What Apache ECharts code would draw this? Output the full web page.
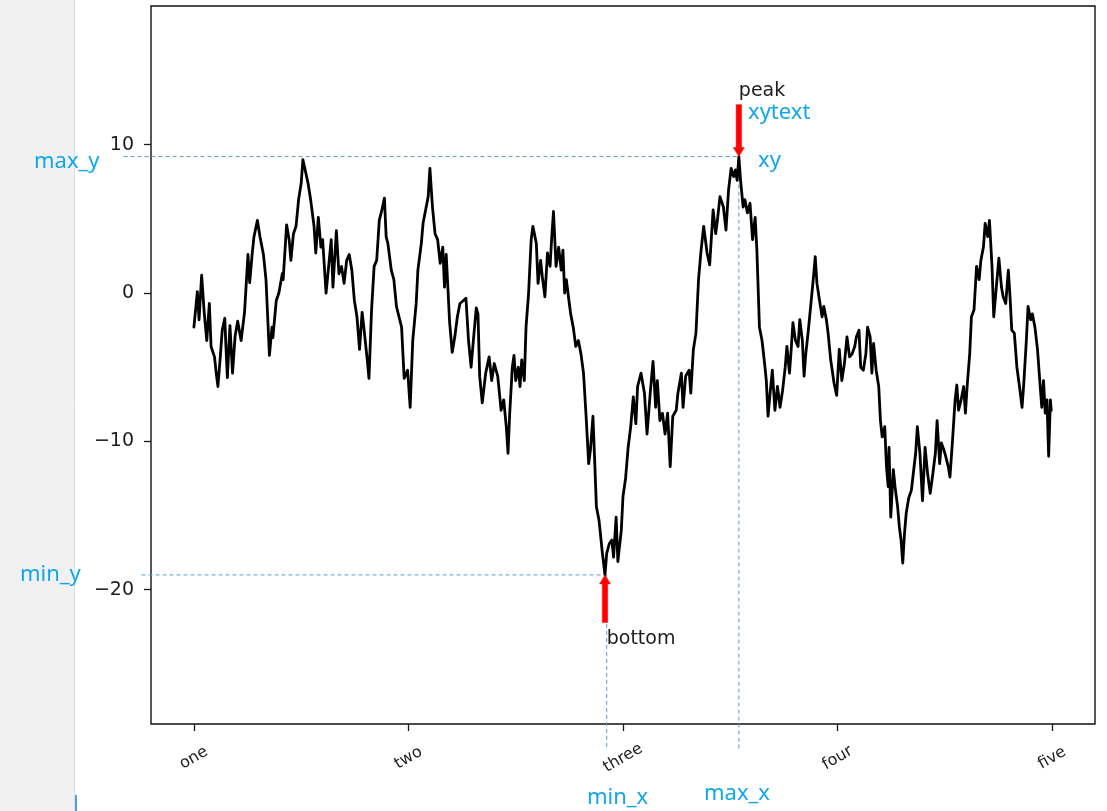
<!DOCTYPE html>
<html><head><meta charset="utf-8">
<script src="https://cdn.jsdelivr.net/npm/echarts@6/dist/echarts.min.js"></script>
<style>html,body{margin:0;padding:0;background:#fff}#c{width:1107px;height:811px}</style>
</head><body><div id="c"></div>
<script>
// x positions (sample index) and values of the random-walk line
const idx = [0,4,6,9,12,15,18,20,24,26,28,31,33,36,37,39,42,45,48,51,55,59,63,65,68,70,74,77,81,84,88,91,92,96,99,103,104,108,111,113,116,119,122,125,127,129,133,136,140,142,145,148,150,154,157,160,162,166,169,172,175,178,181,184,187,190,193,196,198,202,204,207,210,213,216,219,222,224,226,230,233,236,239,242,245,249,252,255,259,261,265,267,270,273,275,278,281,284,287,290,292,294,298,301,304,307,310,314,317,320,323,326,329,331,333,336,340,344,347,350,354,358,361,364,366,368,371,373,375,378,380,382,385,387,390,393,395,399,401,404,406,409,412,415,417,419,422,425,428,430,432,434,437,439,442,445,448,451,454,457,460,462,465,467,469,472,474,476,479,481,484,487,489,492,494,498,500,503,506,509,512,515,517,521,525,528,532,535,538,540,543,546,549,552,555,558,562,564,568,570,573,577,579,582,585,588,591,594,598,601,605,608,610,613,617,620,623,626,629,631,633,635,637,640,642,645,648,651,654,656,659,662,665,667,669,671,674,677,680,683,686,689,691,694,696,698,701,704,706,709,711,713,716,719,722,724,726,729,732,734,737,739,742,746,749,752,755,758,761,764,767,770,772,775,777,780,783,785,788,790,792,795,798,800,802,805,807,809,810,812,815,817,820,822,824,826,828,830,833,836,838,841,843,846,849,852,855,858,861,864,866,869,871,874,876,879,881,884,887,889,891,894,897,899,901,904,906,909,912,915,917,920,922,925,927,930,932,935,938,941,943,946,949,951,953,956,959,962,965,967,970,972,975,977,980,983,985,988,990,992,994,996,998,999];
const vals = [-2.3,0.1,-1.8,1.2,-1.3,-3.2,-0.7,-3.6,-4.3,-5.4,-6.3,-4.1,-2.5,-1.7,-3.2,-5.7,-2.2,-5.4,-2.9,-1.9,-3.2,-1.3,2.6,0.7,2.7,3.8,4.9,3.8,2.6,0.9,-4.2,-2.3,-3.0,-0.5,0,1.3,0.9,4.6,3.6,2.2,4.0,4.5,6.3,7.4,9.0,8.9,7.4,6.3,4.5,2.7,5.1,3.1,3.6,0,1.8,3.6,0.4,4.2,1.3,1.8,0.65,2.2,2.6,1.55,-0.5,-1.6,-3.8,-1.3,-2.3,-4.5,-5.75,-1.15,1.8,2.2,4.9,5.6,6.4,3.8,3.35,1.55,0.9,-0.9,-1.6,-2.3,-5.75,-5.2,-7.7,-3.2,-0.7,1.55,3.35,4.7,5.6,6.5,8.4,5.8,4.0,3.6,2.0,3.1,0.4,2.6,-2.0,-4.0,-2.95,-1.6,-0.7,-0.5,-0.35,-3.2,-5.0,-2.95,-1.0,-1.4,-5.6,-7.4,-5.4,-4.3,-5.9,-4.75,-5.6,-7.9,-7.2,-9.0,-10.8,-8.1,-5.0,-4.2,-5.9,-5.0,-6.3,-4.5,-5.9,-2.3,0,3.6,4.5,3.35,0.65,2.2,1.1,-0.25,2.7,1.8,3.8,5.5,1.8,3.1,1.55,2.9,0,0.9,-0.5,-1.4,-2.3,-3.6,-3.2,-4.1,-5.4,-8.3,-11.5,-10.6,-8.3,-11.3,-14.4,-15.3,-16.4,-17.55,-19.0,-17.55,-16.9,-16.65,-17.8,-15.1,-18.1,-16.0,-13.7,-12.5,-10.4,-9.0,-7.0,-8.8,-6.3,-5.4,-6.75,-9.5,-6.55,-4.6,-7.7,-5.9,-8.6,-8.1,-9.5,-8.1,-11.7,-8.3,-7.9,-6.75,-5.4,-7.7,-5.6,-5.2,-6.75,-3.8,-2.7,0.9,2.9,4.5,2.7,1.9,5.6,4.0,4.9,6.5,5.8,4.25,6.95,8.4,7.85,8.3,7.6,9.2,7.6,5.8,6.3,5.4,6.05,3.6,5.1,2.9,-2.3,-3.2,-4.75,-5.9,-8.3,-7.0,-5.2,-7.9,-6.3,-7.7,-6.55,-5.0,-3.6,-5.4,-3.8,-2.0,-3.2,-3.6,-1.8,-3.2,-5.6,-4.1,-2.5,-0.7,1.1,2.45,0.65,-0.5,-1.6,-0.9,-1.8,-2.7,-4.5,-6.1,-6.9,-3.8,-5.9,-4.75,-2.95,-4.3,-4.1,-3.6,-2.95,-2.5,-5.0,-5.2,-4.1,-2.3,-2.95,-5.4,-3.4,-5.2,-6.3,-8.6,-9.7,-9.0,-11.7,-13.05,-10.4,-15.1,-11.9,-13.05,-14.4,-15.75,-16.65,-18.2,-16.2,-14.85,-13.8,-13.3,-12.3,-10.8,-9.0,-10.8,-14.0,-10.4,-12.2,-13.5,-12.2,-10.8,-8.6,-11.5,-10.1,-10.6,-11.0,-11.7,-12.4,-9.9,-7.2,-6.2,-7.9,-7.2,-6.3,-8.1,-6.3,-4.1,-1.6,-1.15,1.8,0.9,2.2,3.1,4.7,3.8,4.9,1.8,-1.6,0.4,2.35,0.4,-0.25,-0.7,1.55,-0.25,-2.5,-2.7,-5.0,-6.3,-7.7,-6.1,-3.2,-0.9,-1.8,-1.4,-2.3,-3.8,-5.4,-7.7,-5.9,-8.1,-7.2,-11.0,-7.2,-7.9];

const xTickValues = [0, 250, 500, 750, 1000];
const xTickLabels = ['one', 'two', 'three', 'four', 'five'];
const yTickValues = [-20, -10, 0, 10];

// extreme points and annotation anchors (data units)
const maxX = 635, maxY = 9.2;
const minX = 479, minY = -19.0;
const peakArrow = [maxX, 12.7, maxY];     // x, tail y, tip y
const bottomArrow = [minX, -22.2, minY];
const peakText = ['peak', maxX, 13.6];
const bottomText = ['bottom', minX + 2, -23.3];

// layout-only extents of the guide lines (outside the axes)
const X_MIN = -50, X_MAX = 1050, Y_MIN = -29.05, Y_MAX = 19.35;
const guideMaxYLeft = -82, guideMinYLeft = -61, guideBottom = -30.8;
const guides = [
  [guideMaxYLeft, maxY, maxX, maxY],
  [guideMinYLeft, minY, minX, minY],
  [minX + 2, minY, minX + 2, guideBottom],
  [maxX, maxY, maxX, guideBottom]
];

const BLUE = '#12a6ea';
const GUIDE = '#5b9bd5';
const INK = '#1c1c1c';

const chart = echarts.init(document.getElementById('c'), null, {renderer: 'canvas'});

function blueText(text, x, y) {
  return {type: 'text', x: x, y: y, z: 10,
    style: {text: text, fill: BLUE, font: '22px "Noto Sans"', textVerticalAlign: 'middle', verticalAlign: 'middle', textAlign: 'left', align: 'left'}};
}

chart.setOption({
  animation: false,
  backgroundColor: '#fff',
  graphic: [
    {type: 'rect', shape: {x: 0, y: 0, width: 74, height: 811}, style: {fill: '#f1f1f1'}, z: 0},
    {type: 'line', shape: {x1: 74.5, y1: 0, x2: 74.5, y2: 811}, style: {stroke: '#cfe0f0', lineWidth: 1}, z: 0},
    {type: 'rect', shape: {x: 75, y: 795, width: 2, height: 16}, style: {fill: '#5a9bd5'}, z: 0},
    blueText('max_y', 34, 162),
    blueText('min_y', 20, 575),
    blueText('min_x', 587, 798),
    blueText('max_x', 704, 794),
    blueText('xytext', 748, 113),
    blueText('xy', 758, 161)
  ],
  grid: {left: 151, top: 6, right: 12, bottom: 87, show: true, borderColor: '#111', borderWidth: 1.4, outerBoundsMode: 'none'},
  xAxis: {
    type: 'value', min: X_MIN, max: X_MAX,
    axisLine: {show: false, onZero: false}, splitLine: {show: false},
    axisTick: {show: true, length: 7, customValues: xTickValues, lineStyle: {color: INK, width: 1.3}},
    axisLabel: {
      customValues: xTickValues,
      formatter: v => xTickLabels[xTickValues.indexOf(v)] || '',
      rotate: 30, align: 'center', verticalAlign: 'middle', margin: 34,
      fontSize: 16, fontFamily: 'DejaVu Sans', color: INK
    }
  },
  yAxis: {
    type: 'value', min: Y_MIN, max: Y_MAX,
    axisLine: {show: false, onZero: false}, splitLine: {show: false},
    axisTick: {show: true, length: 7, customValues: yTickValues, lineStyle: {color: INK, width: 1.3}},
    axisLabel: {
      customValues: yTickValues,
      formatter: v => (v < 0 ? '\u2212' + Math.abs(v) : String(v)),
      margin: 17, fontSize: 19, fontFamily: 'DejaVu Sans', color: INK
    }
  },
  series: [
    {
      type: 'custom', z: 2, clip: false, silent: true,
      data: guides,
      renderItem: function (params, api) {
        const a = api.coord([api.value(0), api.value(1)]);
        const b = api.coord([api.value(2), api.value(3)]);
        return {type: 'line', shape: {x1: a[0], y1: a[1], x2: b[0], y2: b[1]},
          style: {stroke: GUIDE, lineWidth: 1, lineDash: [4, 3], fill: null}};
      }
    },
    {
      type: 'line', data: idx.map((x, i) => [x, vals[i]]),
      symbol: 'none', showSymbol: false, z: 3,
      lineStyle: {color: '#000', width: 2.8, join: 'round', cap: 'round'}
    },
    {
      type: 'custom', z: 5, clip: false,
      data: [peakArrow, bottomArrow],
      renderItem: function (params, api) {
        const x = api.value(0);
        const p0 = api.coord([x, api.value(1)]);
        const p1 = api.coord([x, api.value(2)]);
        const dx = p1[0] - p0[0], dy = p1[1] - p0[1];
        const len = Math.sqrt(dx * dx + dy * dy);
        const ux = dx / len, uy = dy / len, nx = -uy, ny = ux;
        const hl = 9, w = 2.7, hw = 5.5;
        const bx = p1[0] - ux * hl, by = p1[1] - uy * hl;
        const pts = [
          [p0[0] + nx * w, p0[1] + ny * w], [bx + nx * w, by + ny * w], [bx + nx * hw, by + ny * hw],
          [p1[0], p1[1]], [bx - nx * hw, by - ny * hw], [bx - nx * w, by - ny * w], [p0[0] - nx * w, p0[1] - ny * w]
        ];
        return {type: 'polygon', shape: {points: pts}, style: {fill: '#ff0000', stroke: '#ff0000', lineWidth: 0.5}};
      }
    },
    {
      type: 'custom', z: 6, clip: false,
      data: [peakText, bottomText],
      renderItem: function (params, api) {
        const item = [peakText, bottomText][params.dataIndex];
        const p = api.coord([item[1], item[2]]);
        return {type: 'text', x: p[0], y: p[1],
          style: {text: item[0], fill: INK, font: '19px "DejaVu Sans"', textAlign: 'left', align: 'left', textVerticalAlign: 'middle', verticalAlign: 'middle'}};
      }
    }
  ]
});
</script>
</body></html>
